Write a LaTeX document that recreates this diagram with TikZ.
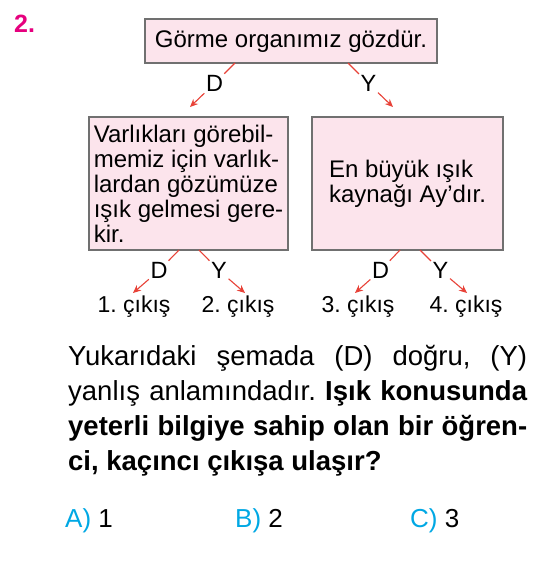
\documentclass[tikz,border=0pt]{standalone}
\usepackage{fontspec}
\setmainfont{Liberation Sans}
\usetikzlibrary{arrows.meta}
\frenchspacing
\definecolor{boxfill}{RGB}{252,228,236}
\definecolor{boxdraw}{RGB}{112,112,112}
\definecolor{arrowred}{RGB}{232,66,56}
\definecolor{qmag}{RGB}{230,0,126}
\definecolor{anscyan}{RGB}{0,168,228}
\begin{document}
\begin{tikzpicture}[x=1pt,y=-1pt,
  box/.style={draw=boxdraw, fill=boxfill, line width=1.8pt, inner sep=0pt, align=left,
    font=\fontsize{24}{25}\selectfont},
  lbl/.style={font=\fontsize{23.5}{25}\selectfont, inner sep=1.5pt},
  outtxt/.style={font=\fontsize{23}{25}\selectfont, inner sep=0pt},
  rline/.style={draw=arrowred, line width=1.1pt},
  rarrow/.style={rline, -{Stealth[length=8pt,width=7pt]}},
  para/.style={font=\fontsize{27.5}{35}\selectfont, inner sep=0pt, anchor=base west},
  ans/.style={font=\fontsize{26}{28}\selectfont, inner sep=0pt, anchor=base west}
]
\useasboundingbox (0,0) rectangle (545,572);
\fill[white] (0,0) rectangle (545,572);

\node[font=\fontsize{25}{28}\selectfont\bfseries, text=qmag, inner sep=0pt, anchor=base west] (num) at (14,33) {2.};

\node[box, minimum width=292pt, minimum height=44pt, align=center] (top) at (291,41) {Görme organımız gözdür.};
\node[box, minimum width=199pt, minimum height=133pt] (lbox) at (188.5,183.5)
  {Varlıkları görebil-\\memiz için varlık-\\lardan gözümüze\\ışık gelmesi gere-\\kir.};
\node[box, minimum width=191pt, minimum height=133pt] (rbox) at (407.5,183.5)
  {En büyük ışık\\kaynağı Ay’dır.};

% top connectors
\coordinate (s1) at (235,63);
\coordinate (s2) at (348,63);
\coordinate (e1) at (190,107);
\coordinate (e2) at (393,107);
\node[lbl] (d0) at (214.5,83.5) {D};
\node[lbl] (y0) at (368.5,83.5) {Y};
\draw[rline] (s1) -- (d0);
\draw[rarrow] (d0) -- (e1);
\draw[rline] (s2) -- (y0);
\draw[rarrow] (y0) -- (e2);

% second row
\coordinate (s3) at (179,250);
\coordinate (s4) at (199,250);
\coordinate (s5) at (400,250);
\coordinate (s6) at (420,250);
\coordinate (e3) at (133,293);
\coordinate (e4) at (245,293);
\coordinate (e5) at (355,293);
\coordinate (e6) at (467,293);
\node[lbl] (d1) at (159,270.5) {D};
\node[lbl] (y1) at (219,270.5) {Y};
\node[lbl] (d2) at (380.5,270.5) {D};
\node[lbl] (y2) at (440.5,270.5) {Y};
\draw[rline] (s3) -- (d1);
\draw[rarrow] (d1) -- (e3);
\draw[rline] (s4) -- (y1);
\draw[rarrow] (y1) -- (e4);
\draw[rline] (s5) -- (d2);
\draw[rarrow] (d2) -- (e5);
\draw[rline] (s6) -- (y2);
\draw[rarrow] (y2) -- (e6);

\node[outtxt] (o1) at (134,307) {1. çıkış};
\node[outtxt] (o2) at (238,307) {2. çıkış};
\node[outtxt] (o3) at (358,307) {3. çıkış};
\node[outtxt] (o4) at (466,307) {4. çıkış};

% paragraph
\node[para] (p1) at (68,365) {\makebox[459pt][s]{Yukarıdaki şemada (D) doğru, (Y)}};
\node[para] (p2) at (68,400) {\makebox[459pt][s]{yanlış anlamındadır. \textbf{Işık konusunda}}};
\node[para] (p3) at (68,435) {\makebox[459pt][s]{\bfseries yeterli bilgiye sahip olan bir öğren-}};
\node[para] (p4) at (68,470) {\bfseries ci, kaçıncı çıkışa ulaşır?};

% answers
\node[ans] (a) at (65,527) {\textcolor{anscyan}{A)} 1};
\node[ans] (b) at (235,527) {\textcolor{anscyan}{B)} 2};
\node[ans] (c) at (410,527) {\textcolor{anscyan}{C)} 3};
\end{tikzpicture}
\end{document}
